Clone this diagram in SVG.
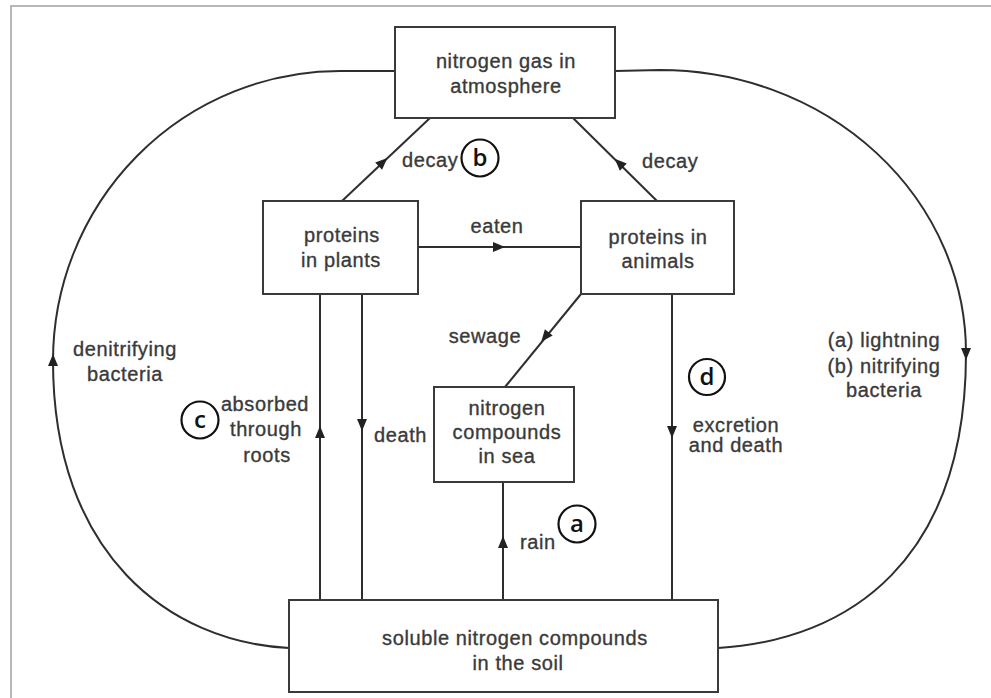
<svg xmlns="http://www.w3.org/2000/svg" xmlns:xlink="http://www.w3.org/1999/xlink" width="991" height="698" viewBox="0 0 991 698">
<style>
.box{fill:#fff;stroke:#3a3a3a;stroke-width:2}
.ln{fill:none;stroke:#2e2e2e;stroke-width:2}
.t{font-family:"Liberation Sans",Arial,sans-serif;font-size:20px;fill:#3a3a3a;stroke:#3a3a3a;stroke-width:0.35;letter-spacing:0.6px}
.m{text-anchor:middle}
.cl{fill:#fff;stroke:#111;stroke-width:2.2}
.cf{font-family:"Open Sans","Liberation Sans",Arial,sans-serif;font-size:24px;font-weight:600;fill:#111;text-anchor:middle}
.frame{fill:none;stroke:#a0a0a0;stroke-width:1.5}
</style>
<defs>
<path id="ah" d="M6,0 L-6,-5 L-6,5 Z" fill="#222"/>
</defs>
<rect width="991" height="698" fill="#fff"/>
<path class="frame" d="M11,698 V6 H991"/>
<g id="connectors">
<path class="ln" d="M395,71 L340,71 A287,290 0 0 0 53,361 C53,555 170,642 289,648"/>
<path class="ln" d="M615,71 L660,70 A306,283 0 0 1 966,353 C966,560 850,640 718,648"/>
<path class="ln" d="M342,201 L430,118"/>
<path class="ln" d="M657,201 L573,118"/>
<path class="ln" d="M418,247 L581,247"/>
<path class="ln" d="M581,294 L505,387"/>
<path class="ln" d="M320,294 V600"/>
<path class="ln" d="M362,294 V600"/>
<path class="ln" d="M503,482 V600"/>
<path class="ln" d="M672,294 V600"/>
<use xlink:href="#ah" transform="translate(53,360) rotate(-90)"/>
<use xlink:href="#ah" transform="translate(966,354) rotate(90)"/>
<use xlink:href="#ah" transform="translate(383,162) rotate(-43.3)"/>
<use xlink:href="#ah" transform="translate(619,163) rotate(-136)"/>
<use xlink:href="#ah" transform="translate(499,247)"/>
<use xlink:href="#ah" transform="translate(545,337) rotate(129)"/>
<use xlink:href="#ah" transform="translate(320,432) rotate(-90)"/>
<use xlink:href="#ah" transform="translate(362,425) rotate(90)"/>
<use xlink:href="#ah" transform="translate(503,542) rotate(-90)"/>
<use xlink:href="#ah" transform="translate(672,432) rotate(90)"/>
</g>
<g id="labels">
<text class="t" x="402" y="167">decay</text>
<text class="t" x="642" y="168">decay</text>
<text class="t m" x="497" y="233">eaten</text>
<text class="t m" x="485" y="343">sewage</text>
<text class="t" x="374" y="442">death</text>
<text class="t m" x="265" y="411">absorbed</text>
<text class="t m" x="266" y="436">through</text>
<text class="t m" x="267" y="462">roots</text>
<text class="t" x="520" y="549">rain</text>
<text class="t m" x="125" y="356">denitrifying</text>
<text class="t m" x="125" y="381">bacteria</text>
<text class="t m" x="736" y="432">excretion</text>
<text class="t m" x="736" y="452">and death</text>
<text class="t m" x="884" y="347">(a) lightning</text>
<text class="t m" x="884" y="373">(b) nitrifying</text>
<text class="t m" x="884" y="397">bacteria</text>
</g>
<g id="n-atmosphere">
<rect class="box" x="395" y="27" width="220" height="91"/>
<text class="t m" x="506" y="68">nitrogen gas in</text>
<text class="t m" x="506" y="93">atmosphere</text>
</g>
<g id="n-plants">
<rect class="box" x="263" y="201" width="155" height="93"/>
<text class="t m" x="342" y="242">proteins</text>
<text class="t m" x="341" y="267">in plants</text>
</g>
<g id="n-animals">
<rect class="box" x="581" y="201" width="153" height="93"/>
<text class="t m" x="658" y="244">proteins in</text>
<text class="t m" x="658" y="268">animals</text>
</g>
<g id="n-sea">
<rect class="box" x="434" y="387" width="140" height="95"/>
<text class="t m" x="507" y="415">nitrogen</text>
<text class="t m" x="507" y="439">compounds</text>
<text class="t m" x="507" y="463">in sea</text>
</g>
<g id="n-soil">
<rect class="box" x="289" y="600" width="429" height="92"/>
<text class="t m" x="515" y="645">soluble nitrogen compounds</text>
<text class="t m" x="518" y="670">in the soil</text>
</g>
<g id="m-a"><circle class="cl" cx="577" cy="524" r="18.5"/><text class="cf" x="577" y="532">a</text></g>
<g id="m-b"><circle class="cl" cx="480" cy="158" r="18.5"/><text class="cf" x="480" y="166">b</text></g>
<g id="m-c"><circle class="cl" cx="200" cy="420" r="18.5"/><text class="cf" x="200" y="428">c</text></g>
<g id="m-d"><circle class="cl" cx="707" cy="377" r="18"/><text class="cf" x="707" y="385">d</text></g>
</svg>
